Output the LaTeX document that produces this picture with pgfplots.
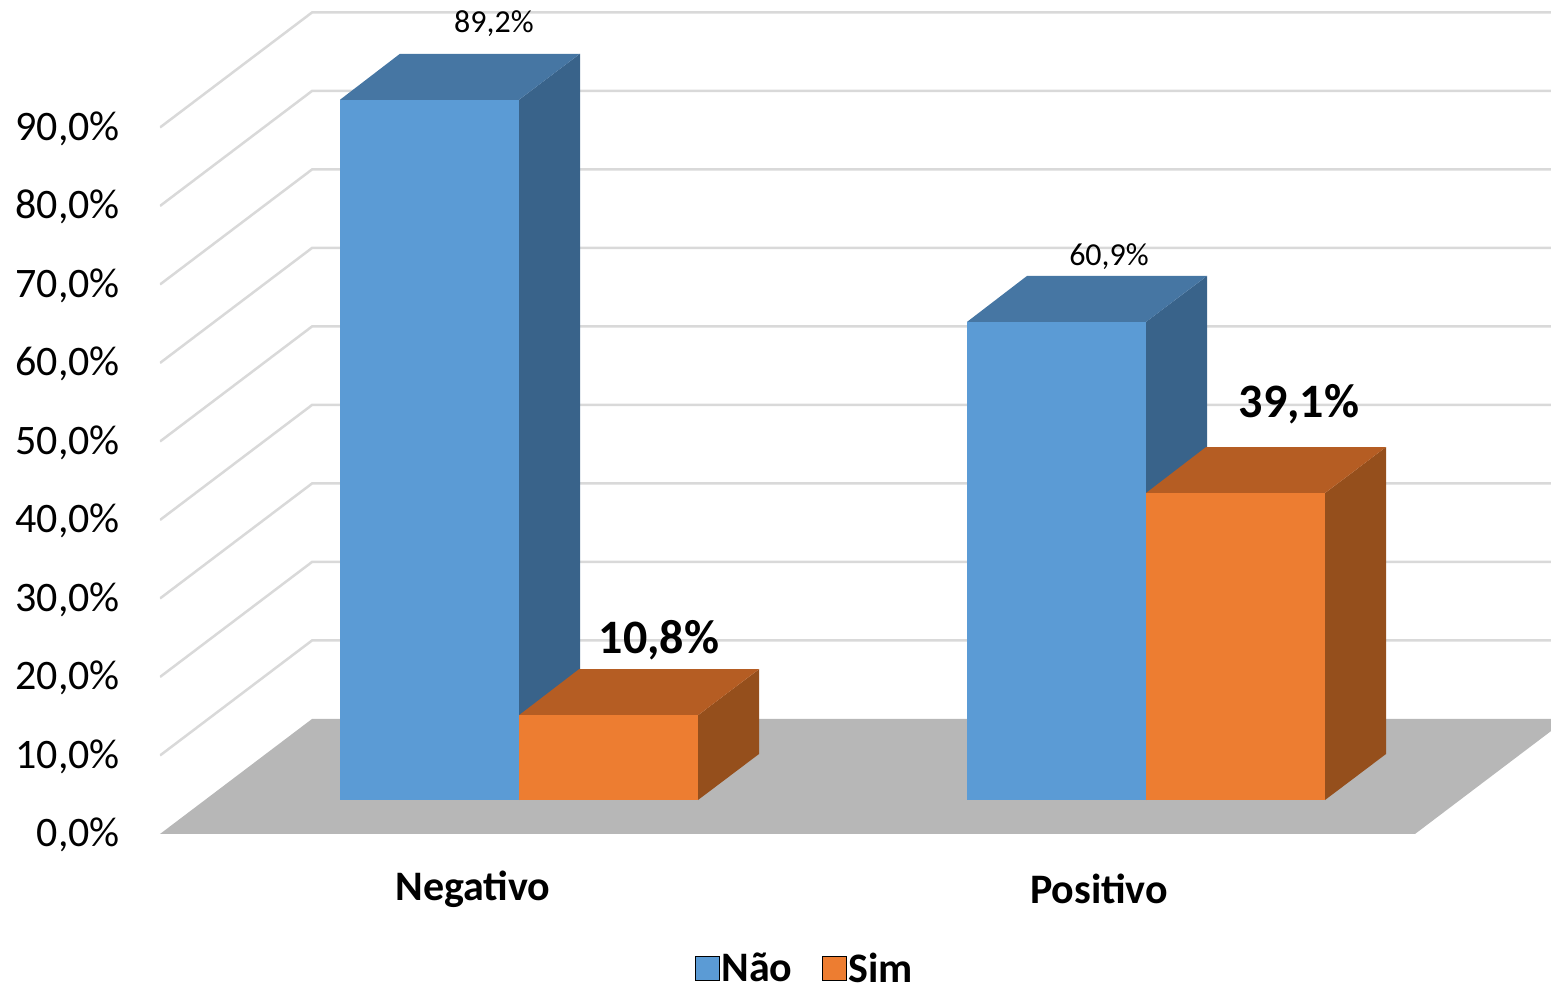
\documentclass[border=0pt]{standalone}
\usepackage{pgfplots}
\pgfplotsset{compat=1.18}
\usepackage{fontspec}
\setmainfont{Carlito}

\definecolor{naoFront}{HTML}{5B9BD5}
\definecolor{naoTop}{HTML}{4676A3}
\definecolor{naoSide}{HTML}{39638A}
\definecolor{simFront}{HTML}{ED7D31}
\definecolor{simTop}{HTML}{B55D23}
\definecolor{simSide}{HTML}{954F1C}
\definecolor{wall}{HTML}{D9D9D9}
\definecolor{floorc}{HTML}{B7B7B7}

\newcommand{\fs}[1]{\fontsize{#1}{#1}\selectfont}

% args: left x, value, colour prefix
\newcommand{\bartd}[3]{%
  \pgfmathsetmacro\xa{#1}
  \pgfmathsetmacro\xb{#1+179}
  \pgfmathsetmacro\xc{#1+240}
  \pgfmathsetmacro\xd{#1+60}
  \pgfmathsetmacro\ya{4.33}
  \pgfmathsetmacro\yb{4.33+#2}
  \pgfmathsetmacro\yc{4.33+#2+5.86}
  \pgfmathsetmacro\yd{4.33+5.86}
  \addplot[fill=#3Side,draw=none,forget plot] coordinates {(\xb,\ya)(\xc,\yd)(\xc,\yc)(\xb,\yb)} -- cycle;
  \addplot[fill=#3Top,draw=none,forget plot] coordinates {(\xa,\yb)(\xb,\yb)(\xc,\yc)(\xd,\yc)} -- cycle;
  \addplot[fill=#3Front,draw=none,forget plot] coordinates {(\xa,\ya)(\xb,\ya)(\xb,\yb)(\xa,\yb)} -- cycle;
}

\begin{document}
\begin{tikzpicture}[x=1pt,y=1pt]
\path[use as bounding box] (0,0) rectangle (1551,984);
\begin{axis}[
  at={(160pt,150pt)},anchor=south west,
  scale only axis,width=1391pt,height=834pt,
  xmin=160,xmax=1551,ymin=0,ymax=106.24,
  axis line style={draw=none},
  tick style={draw=none},
  ytick={0,10,...,90},
  xtick={473,1099},
  xticklabels={Negativo,Positivo},
  /pgf/number format/assume math mode=true,
  /pgf/number format/.cd,fixed,fixed zerofill,precision=1,use comma,/tikz/.cd,
  yticklabel={\pgfmathprintnumber{\tick}\%},
  yticklabel style={font=\fs{42},anchor=east,inner sep=0pt,xshift=-40pt,yshift=-1pt},
  xticklabel style={font=\fs{42}\bfseries,anchor=center,inner sep=0pt,yshift=-55pt},
  legend style={at={(0.4637,-0.1607)},anchor=center,draw=none,fill=none,
    legend columns=2,font=\fs{42}\bfseries,inner sep=0pt,
    /tikz/every even column/.append style={column sep=28pt}},
  legend image code/.code={\fill[#1] (0pt,-12pt) rectangle (24pt,12pt);},
]
\pgfplotsinvokeforeach{10,20,30,40,50,60,70,80,90}{
  \pgfmathsetmacro\yw{#1+14.65}
  \addplot[color=wall,line width=2.5pt,forget plot] coordinates {(160,#1)(312,\yw)(1560,\yw)};
}
\addplot[fill=floorc,draw=none,forget plot] coordinates {(160,0)(1415,0)(1567,14.65)(312,14.65)} -- cycle;

\bartd{340}{89.2}{nao}
\bartd{519}{10.8}{sim}
\bartd{967}{60.9}{nao}
\bartd{1146}{39.1}{sim}

\addlegendimage{fill=naoFront}
\addlegendentry{Não}
\addlegendimage{fill=simFront}
\addlegendentry{Sim}

\node[font=\fs{32},inner sep=0pt] at (axis cs:494,103.2) {89,2\%};
\node[font=\fs{32},inner sep=0pt] at (axis cs:1109,73.6) {60,9\%};
\node[font=\fs{48}\bfseries,inner sep=0pt] at (axis cs:659,24.7) {10,8\%};
\node[font=\fs{48}\bfseries,inner sep=0pt] at (axis cs:1299,54.7) {39,1\%};
\end{axis}
\end{tikzpicture}
\end{document}
